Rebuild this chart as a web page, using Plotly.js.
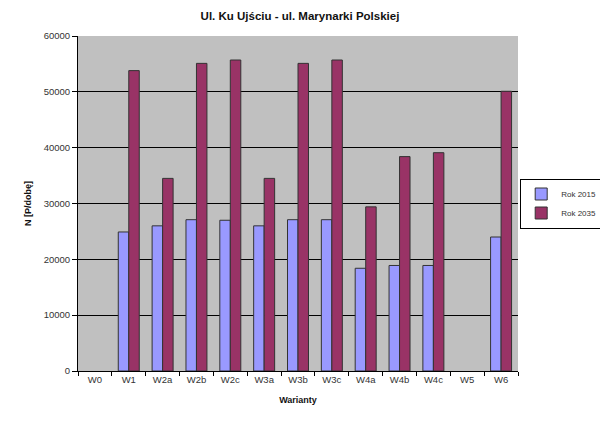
<!DOCTYPE html>
<html><head><meta charset="utf-8">
<script src="https://cdn.plot.ly/plotly-3.0.1.min.js"></script>
<style>html,body{margin:0;padding:0;background:#fff}#c{width:600px;height:421px}</style>
</head><body><div id="c"></div>
<script>
const categories = ["W0","W1","W2a","W2b","W2c","W3a","W3b","W3c","W4a","W4b","W4c","W5","W6"];
const rok2015 = [null,24900,26000,27100,27000,26000,27100,27100,18400,18900,18900,null,24000];
const rok2035 = [null,53800,34500,55100,55700,34500,55100,55700,29400,38400,39100,null,50100];

const traces = [
  {type:"bar", name:"Rok 2015", x:categories, y:rok2015,
   marker:{color:"#9999ff", line:{color:"#333333", width:1}}},
  {type:"bar", name:"Rok 2035", x:categories, y:rok2035,
   marker:{color:"#993366", line:{color:"#333333", width:1}}}
];
const layout = {
  width:600, height:421,
  margin:{l:78, r:82, t:36, b:50, autoexpand:false},
  paper_bgcolor:"#ffffff", plot_bgcolor:"#c0c0c0",
  font:{family:"Liberation Sans, Arial, sans-serif", size:9, color:"#333"},
  title:{text:"<b>Ul. Ku Ujściu - ul. Marynarki Polskiej</b>", font:{size:11.5, color:"#111"}, x:0.5, xanchor:"center", y:0.962, yanchor:"middle"},
  barmode:"group", bargap:0.38, bargroupgap:0,
  xaxis:{type:"category", title:{text:"<b>Warianty</b>", font:{size:9, color:"#111"}, standoff:12},
    showline:true, linecolor:"#000", linewidth:1, ticks:"outside", tickson:"boundaries", ticklen:4, tickcolor:"#000",
    showgrid:false, mirror:false, tickfont:{size:9.5}},
  yaxis:{title:{text:"<b>N [P/dobę]</b>", font:{size:9, color:"#111"}, standoff:10},
    range:[0,60000], dtick:10000, tickformat:"d", showline:true, linecolor:"#000", linewidth:1,
    ticks:"outside", ticklen:5, tickcolor:"#000", showgrid:true, gridcolor:"#000", gridwidth:1, zeroline:false,
    tickfont:{size:9.5}},
  legend:{x:1.005, xanchor:"left", y:0.5, yanchor:"middle", bgcolor:"#ffffff", bordercolor:"#000", borderwidth:1,
    font:{size:8}, itemwidth:30, tracegroupgap:0},
  showlegend:true
};
Plotly.newPlot("c", traces, layout, {displayModeBar:false, staticPlot:true});
</script></body></html>
